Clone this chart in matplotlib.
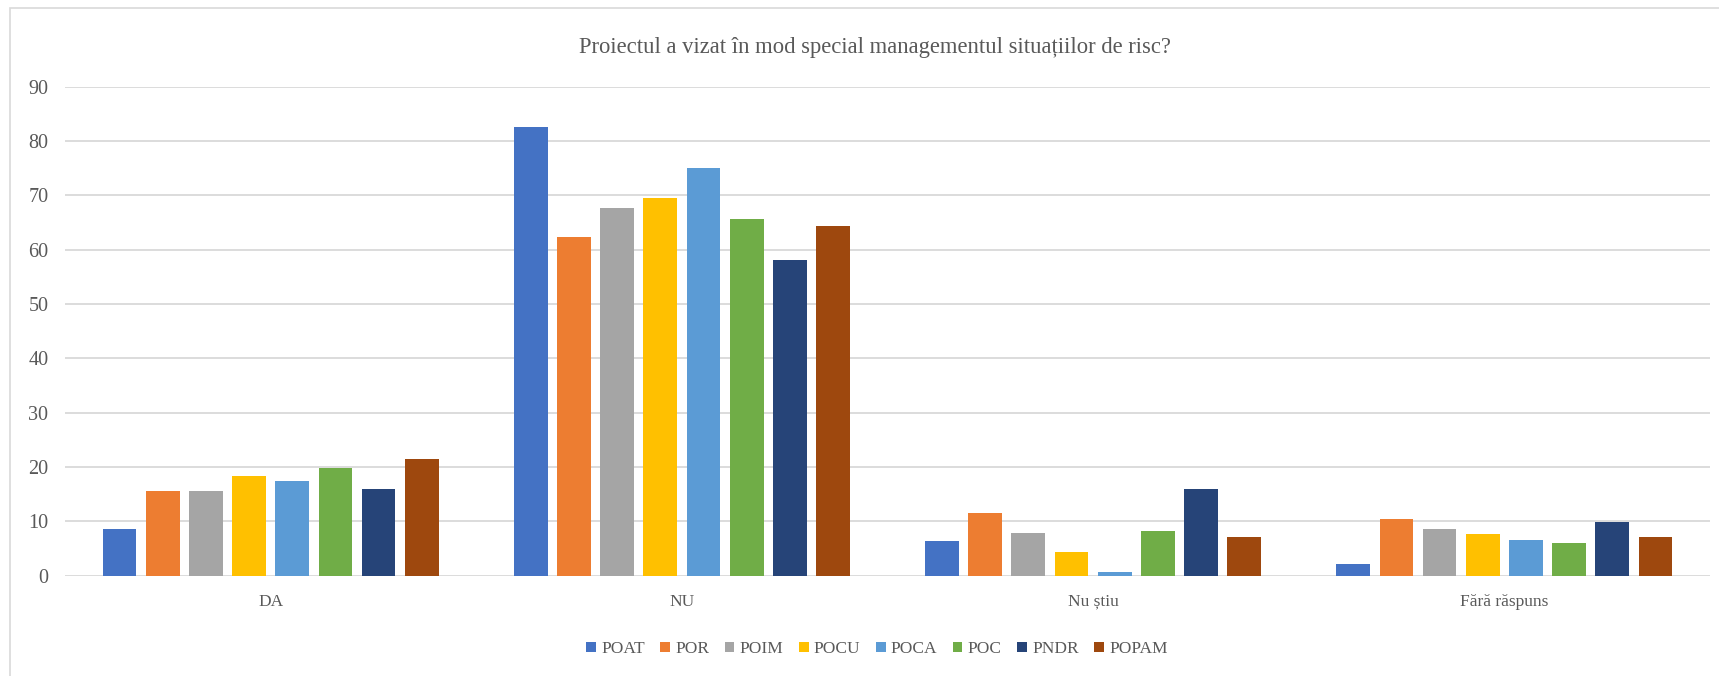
import numpy as np
import matplotlib
matplotlib.use("Agg")
import matplotlib.pyplot as plt
from matplotlib.patches import Rectangle, Patch

# --- data ---
categories = ['DA', 'NU', 'Nu știu', 'Fără răspuns']
programmes = ['POAT', 'POR', 'POIM', 'POCU', 'POCA', 'POC', 'PNDR', 'POPAM']
colors = ['#4472C4', '#ED7D31', '#A5A5A5', '#FFC000', '#5B9BD5', '#70AD47', '#264478', '#9E480E']

poat = [8.6, 82.6, 6.4, 2.1]
por = [15.5, 62.3, 11.6, 10.5]
poim = [15.6, 67.6, 7.8, 8.6]
pocu = [18.3, 69.6, 4.3, 7.6]
poca = [17.5, 75.1, 0.6, 6.5]
poc = [19.9, 65.6, 8.3, 6.0]
pndr = [16.0, 58.1, 16.0, 9.9]
popam = [21.4, 64.3, 7.1, 7.1]
series = [poat, por, poim, pocu, poca, poc, pndr, popam]

title = 'Proiectul a vizat în mod special managementul situațiilor de risc?'

plt.rcParams['font.family'] = ['Liberation Serif', 'DejaVu Serif']
text_color = '#595959'
grid_color = '#D9D9D9'

fig = plt.figure(figsize=(17.19, 6.76), dpi=100)
# chart area border
fig.patches.append(Rectangle((10 / 1719, -0.1), 1.2, 1 - 8 / 676 + 0.1,
                             transform=fig.transFigure, facecolor='white',
                             edgecolor=grid_color, linewidth=1.2, zorder=-1))

ax = fig.add_axes([65 / 1719, 1 - 575.7 / 676, (1710 - 65) / 1719, (575.7 - 86.7) / 676])
ax.set_facecolor('none')

x = np.arange(len(categories))
step = 0.105
width = 0.082
for i, (vals, col) in enumerate(zip(series, colors)):
    ax.bar(x + (i - 3.5) * step, vals, width=width, color=col, zorder=3, label=programmes[i])

ax.set_xlim(-0.5, len(categories) - 0.5)
ax.set_ylim(0, 90)
ax.set_yticks(range(0, 91, 10))
ax.yaxis.grid(True, color=grid_color, linewidth=1.3, zorder=0)
ax.set_xticks(x)
ax.set_xticklabels(categories)
ax.tick_params(axis='both', length=0, colors=text_color)
ax.tick_params(axis='y', pad=12, labelsize=14.5)
ax.tick_params(axis='x', pad=13, labelsize=12.5)
for s in ax.spines.values():
    s.set_visible(False)

fig.text(875 / 1719, 1 - 47 / 676, title, ha='center', va='center',
         fontsize=16.3, color=text_color)

handles = [Patch(facecolor=c, edgecolor='none') for c in colors]
fig.legend(handles, programmes, loc='center', bbox_to_anchor=(877 / 1719, 1 - 649 / 676),
           ncol=8, frameon=False, fontsize=12.5, labelcolor=text_color,
           handlelength=0.55, handleheight=0.55, handletextpad=0.3, columnspacing=0.9)

fig.savefig('out.png', dpi=100)
